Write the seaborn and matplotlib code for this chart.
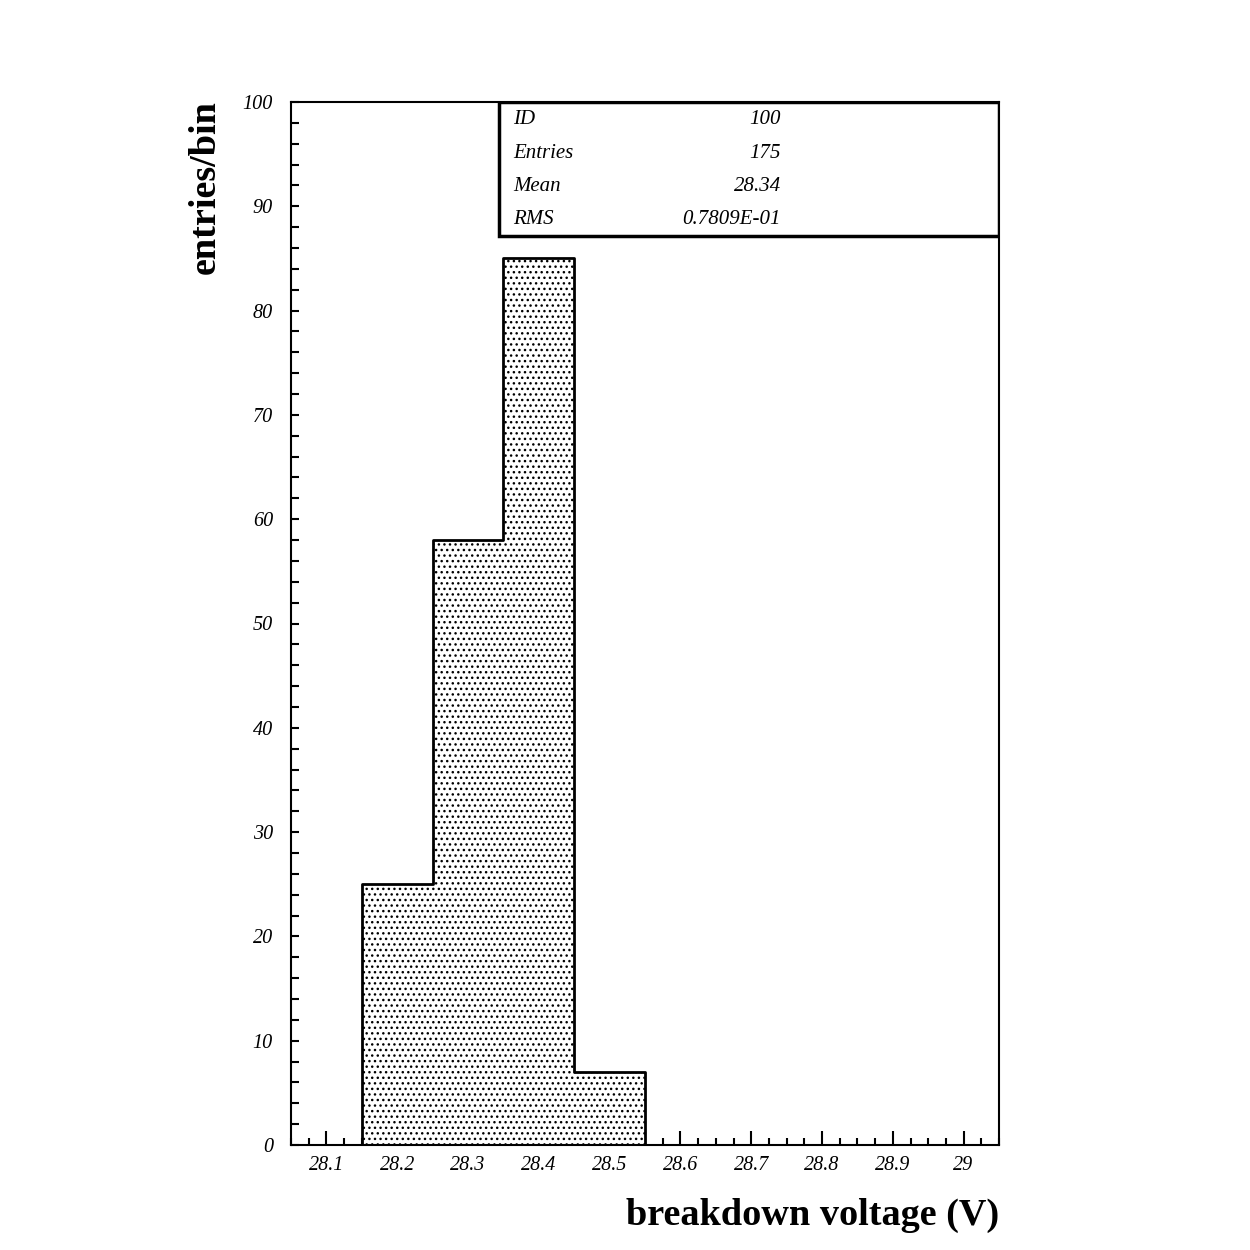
import matplotlib
matplotlib.use("Agg")
import matplotlib.pyplot as plt
import seaborn as sns
import numpy as np
from matplotlib.ticker import MultipleLocator, FixedLocator

sns.set_theme(style="white")
plt.rcParams['font.family'] = ['Liberation Serif', 'DejaVu Serif']
plt.rcParams['hatch.linewidth'] = 1.0
plt.rcParams['text.color'] = 'black'
plt.rcParams['xtick.color'] = 'black'
plt.rcParams['ytick.color'] = 'black'

# data
bin_edges = [28.15, 28.25, 28.35, 28.45, 28.55]
counts = [25, 58, 85, 7]
bin_centers = [28.2, 28.3, 28.4, 28.5]
x_ticks = [28.1, 28.2, 28.3, 28.4, 28.5, 28.6, 28.7, 28.8, 28.9, 29.0]
x_tick_labels = ["28.1", "28.2", "28.3", "28.4", "28.5", "28.6", "28.7", "28.8", "28.9", "29"]
y_ticks = [0, 10, 20, 30, 40, 50, 60, 70, 80, 90, 100]
stat_names = ["ID", "Entries", "Mean", "RMS"]
stat_values = ["100", "175", "28.34", "0.7809E-01"]

fig = plt.figure(figsize=(12.5, 12.5), dpi=100)
ax = fig.add_axes([291/1250, 1 - 1145/1250, (999-291)/1250, (1145-102)/1250])

sns.histplot(x=bin_centers, weights=counts, bins=bin_edges, ax=ax,
             element="step", fill=True, facecolor="#ffffff", edgecolor="black",
             hatch="...", linewidth=2, alpha=1)

ax.set_xlim(28.05, 29.05)
ax.set_ylim(0, 100)
ax.xaxis.set_major_locator(FixedLocator(x_ticks))
ax.set_xticklabels(x_tick_labels)
ax.xaxis.set_minor_locator(MultipleLocator(0.025))
ax.yaxis.set_major_locator(FixedLocator(y_ticks))
ax.yaxis.set_minor_locator(MultipleLocator(2))
ax.tick_params(axis='both', which='both', direction='in', color='black',
               bottom=True, left=True, top=False, right=False)
ax.tick_params(axis='x', which='major', length=10, width=1.5, labelsize=14.5, pad=8,
               labelcolor='black')
ax.tick_params(axis='x', which='minor', length=5, width=1.5)
ax.tick_params(axis='y', which='major', length=6, width=1.5, labelsize=14.5, pad=13,
               labelcolor='black')
ax.tick_params(axis='y', which='minor', length=6, width=1.5)
for lab in ax.get_xticklabels() + ax.get_yticklabels():
    lab.set_fontstyle('italic')
for sp in ax.spines.values():
    sp.set_linewidth(1.5)
    sp.set_color('black')
ax.grid(False)

ax.set_xlabel("")
ax.set_ylabel("")
fig.text(999/1250, 1 - 1215/1250, "breakdown voltage (V)", ha='right', va='center',
         fontsize=27.5, fontweight='bold', color='black')
fig.text(205/1250, 1 - 100/1250, "entries/bin", ha='center', va='top', rotation=90,
         fontsize=27.5, fontweight='bold', color='black')

# stats box
bx0 = (499 - 291) / (999 - 291)
by0 = (1145 - 236) / (1145 - 102)
ax.add_patch(plt.Rectangle((bx0, by0), 1 - bx0, 1 - by0, transform=ax.transAxes,
                           facecolor='white', edgecolor='black', linewidth=2.5, zorder=5))
for i, (n, v) in enumerate(zip(stat_names, stat_values)):
    ypx = 120 + i * 33.3
    yax = (1145 - ypx) / (1145 - 102)
    ax.text((513 - 291) / 708, yax, n, transform=ax.transAxes, ha='left', va='center',
            fontsize=15, fontstyle='italic', color='black', zorder=6)
    ax.text((781 - 291) / 708, yax, v, transform=ax.transAxes, ha='right', va='center',
            fontsize=15, fontstyle='italic', color='black', zorder=6)

fig.savefig("out.png", dpi=100, facecolor='white')
